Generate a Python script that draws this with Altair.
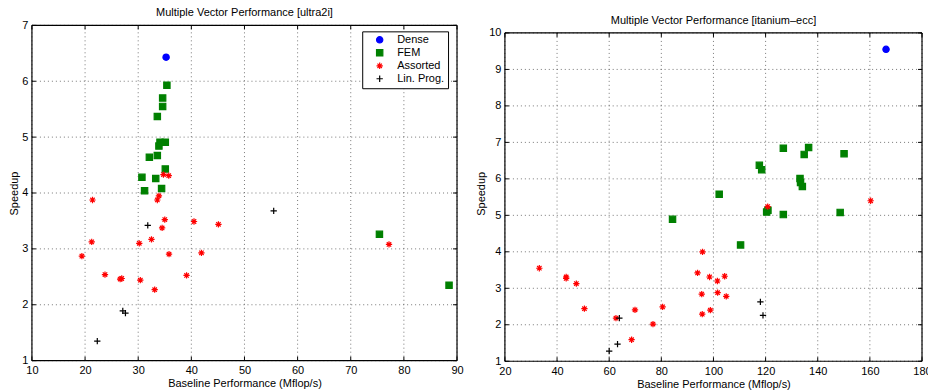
import altair as alt
import pandas as pd

# ---- ultra2i ----
u_dense_x = [35.25]
u_dense_y = [6.43]
u_fem_x = [35.4, 34.6, 34.6, 33.6, 34.1, 35.1, 33.9, 32.1, 33.6, 35.1, 30.7, 33.3, 31.2, 34.4, 75.4, 88.5]
u_fem_y = [5.93, 5.70, 5.55, 5.37, 4.91, 4.91, 4.84, 4.64, 4.67, 4.43, 4.28, 4.26, 4.04, 4.08, 3.26, 2.35]
u_asr_x = [34.75, 35.75, 21.4, 33.9, 33.6, 35.0, 40.5, 45.1, 34.5, 21.25, 32.5, 30.2, 19.4, 35.8,
           41.9, 23.75, 26.6, 26.9, 30.4, 39.1, 33.1, 77.2]
u_asr_y = [4.33, 4.31, 3.875, 3.95, 3.875, 3.525, 3.49, 3.44, 3.375, 3.125, 3.17, 3.10, 2.87, 2.905,
           2.93, 2.54, 2.46, 2.47, 2.44, 2.525, 2.27, 3.08]
u_lp_x = [55.5, 31.8, 27.1, 27.6, 22.3]
u_lp_y = [3.68, 3.42, 1.89, 1.85, 1.35]

# ---- itanium-ecc ----
i_dense_x = [166.2]
i_dense_y = [9.55]
i_fem_x = [126.8, 136.5, 134.8, 150.1, 117.6, 118.5, 133.2, 133.4, 134.1, 102.2, 120.4, 120.9, 126.8,
           148.6, 84.3, 110.4]
i_fem_y = [6.84, 6.86, 6.67, 6.69, 6.37, 6.25, 6.01, 5.90, 5.79, 5.58, 5.09, 5.14, 5.02, 5.08, 4.89, 4.19]
i_asr_x = [120.8, 160.3, 33.2, 43.5, 43.5, 47.4, 50.5, 62.6, 69.9, 68.6, 76.8, 80.5, 95.8, 93.9, 98.5,
           101.5, 104.3, 95.5, 101.6, 104.9, 95.7, 98.8]
i_asr_y = [5.24, 5.40, 3.55, 3.31, 3.27, 3.13, 2.44, 2.18, 2.41, 1.59, 2.02, 2.49, 4.00, 3.42, 3.31,
           3.20, 3.33, 2.84, 2.88, 2.78, 2.29, 2.40]
i_lp_x = [63.9, 63.2, 60.0, 118.0, 119.0]
i_lp_y = [2.18, 1.47, 1.28, 2.63, 2.26]

# ---- axis ticks ----
u_xticks = [10, 20, 30, 40, 50, 60, 70, 80, 90]
u_yticks = [1, 2, 3, 4, 5, 6, 7]
i_xticks = [20, 40, 60, 80, 100, 120, 140, 160, 180]
i_yticks = [1, 2, 3, 4, 5, 6, 7, 8, 9, 10]

SERIES = ["Dense", "FEM", "Assorted", "Lin. Prog."]
ASTERISK = "M-1,0L1,0M0,-1L0,1M-0.7,-0.7L0.7,0.7M-0.7,0.7L0.7,-0.7"
PLUS = "M-1,0L1,0M0,-1L0,1"
SHAPES = ["circle", "square", ASTERISK, PLUS]
FILLS = ["#0000ff", "#008000", "transparent", "transparent"]
STROKES = ["#0000ff", "#008000", "#ff0000", "#000000"]
FONT = "Liberation Sans"
XTITLE = "Baseline Performance (Mflop/s)"
YTITLE = "Speedup"


def table(groups):
    rows = []
    for name, xs, ys in groups:
        for x, y in zip(xs, ys):
            rows.append({"series": name, "x": x, "y": y})
    return pd.DataFrame(rows)


def panel(df, title, xticks, yticks, view_ymax, w, h, leg_x, leg_y, title_y):
    """One boxed scatter panel. The box spans the tick range; the view may
    reach a little above the box top (view_ymax) so panels can sit at
    different heights."""
    xmin, xmax = xticks[0], xticks[-1]
    ymin, ymax = yticks[0], yticks[-1]
    xs = alt.Scale(domain=[xmin, xmax], nice=False, zero=False)
    ys = alt.Scale(domain=[ymin, view_ymax], nice=False, zero=False)
    opts = dict(format="d", labelOverlap=False, labelFlush=False, labelBound=False,
                domain=False, grid=False, ticks=False)
    X = alt.X("x:Q", scale=xs, axis=alt.Axis(values=xticks, **opts), title=XTITLE)
    Y = alt.Y("y:Q", scale=ys, axis=alt.Axis(values=yticks, **opts), title=YTITLE)

    # dotted grid
    vgrid = pd.DataFrame({"x": xticks, "y": [ymin] * len(xticks), "y2": [ymax] * len(xticks)})
    hgrid = pd.DataFrame({"y": yticks, "x": [xmin] * len(yticks), "x2": [xmax] * len(yticks)})
    dots = dict(color="#555555", strokeWidth=0.8, strokeDash=[1, 3])
    grid = [
        alt.Chart(vgrid).mark_rule(**dots).encode(x=X, y=Y, y2="y2:Q"),
        alt.Chart(hgrid).mark_rule(**dots).encode(y=Y, x=X, x2="x2:Q"),
    ]

    # box around the plot
    box = pd.DataFrame({
        "x": [xmin, xmin, xmin, xmax], "x2": [xmax, xmax, xmin, xmax],
        "y": [ymin, ymax, ymin, ymin], "y2": [ymin, ymax, ymax, ymax],
    })
    frame = alt.Chart(box).mark_rule(color="black", strokeWidth=1.2).encode(
        x=X, x2="x2:Q", y=Y, y2="y2:Q")

    # short inward ticks on all four sides
    tx_top = pd.DataFrame({"x": xticks, "y": [ymax] * len(xticks), "y2": [ymax] * len(xticks)})
    tx_bot = pd.DataFrame({"x": xticks, "y": [ymin] * len(xticks), "y2": [ymin] * len(xticks)})
    ty_l = pd.DataFrame({"y": yticks, "x": [xmin] * len(yticks), "x2": [xmin] * len(yticks)})
    ty_r = pd.DataFrame({"y": yticks, "x": [xmax] * len(yticks), "x2": [xmax] * len(yticks)})
    tk = dict(color="black", strokeWidth=1)
    ticks = [
        alt.Chart(tx_top).mark_rule(y2Offset=4, **tk).encode(x=X, y=Y, y2="y2:Q"),
        alt.Chart(tx_bot).mark_rule(y2Offset=-4, **tk).encode(x=X, y=Y, y2="y2:Q"),
        alt.Chart(ty_l).mark_rule(x2Offset=4, **tk).encode(y=Y, x=X, x2="x2:Q"),
        alt.Chart(ty_r).mark_rule(x2Offset=-4, **tk).encode(y=Y, x=X, x2="x2:Q"),
    ]

    leg = alt.Legend(title=None, orient="none", legendX=leg_x, legendY=leg_y)
    pts = alt.Chart(df).mark_point(size=40, strokeWidth=1.2, opacity=1).encode(
        x=X, y=Y,
        shape=alt.Shape("series:N", scale=alt.Scale(domain=SERIES, range=SHAPES), legend=leg),
        fill=alt.Fill("series:N", scale=alt.Scale(domain=SERIES, range=FILLS), legend=leg),
        stroke=alt.Stroke("series:N", scale=alt.Scale(domain=SERIES, range=STROKES), legend=leg),
    )

    # panel heading, centred above the box
    heading = alt.Chart(pd.DataFrame({"k": [0]})).mark_text(
        text=title, font=FONT, fontSize=11, color="black", align="center", baseline="middle"
    ).encode(x=alt.value(w / 2), y=alt.value(title_y))

    return alt.layer(*grid, frame, *ticks, pts, heading).properties(width=w, height=h)


ultra = table([("Dense", u_dense_x, u_dense_y), ("FEM", u_fem_x, u_fem_y),
               ("Assorted", u_asr_x, u_asr_y), ("Lin. Prog.", u_lp_x, u_lp_y)])
itan = table([("Dense", i_dense_x, i_dense_y), ("FEM", i_fem_x, i_fem_y),
              ("Assorted", i_asr_x, i_asr_y), ("Lin. Prog.", i_lp_x, i_lp_y)])

left = panel(ultra, "Multiple Vector Performance [ultra2i]", u_xticks, u_yticks, 7,
             426, 336, 331, 6, title_y=-12.7)
right = panel(itan, "Multiple Vector Performance [itanium\u2013ecc]", i_xticks, i_yticks, 10.208,
              418, 336.6, 10, 14, title_y=-4.5)

# the last x label of the right panel runs past the edge of the figure
chart = alt.hconcat(left, right, spacing=11).configure(
    padding={"left": 8, "top": 6, "right": -4, "bottom": 0},
    background="white",
).configure_view(
    strokeWidth=0,
).configure_axis(
    labelFont=FONT, labelFontSize=11, labelColor="black", labelPadding=4,
    labelFlush=False, labelOverlap=False, labelBound=False,
    titleFont=FONT, titleFontSize=11, titleFontWeight="normal", titleColor="black",
    ticks=False, domain=False, grid=False,
).configure_axisX(titlePadding=2).configure_axisY(titlePadding=2).configure_legend(
    strokeColor="black", fillColor="white", padding=3, cornerRadius=0,
    labelFont=FONT, labelFontSize=11, labelColor="black",
    symbolSize=40, symbolStrokeWidth=1.2, symbolOffset=9, labelOffset=12, rowPadding=0,
)

chart.save("out.html", embed_options={"renderer": "svg", "actions": False})
